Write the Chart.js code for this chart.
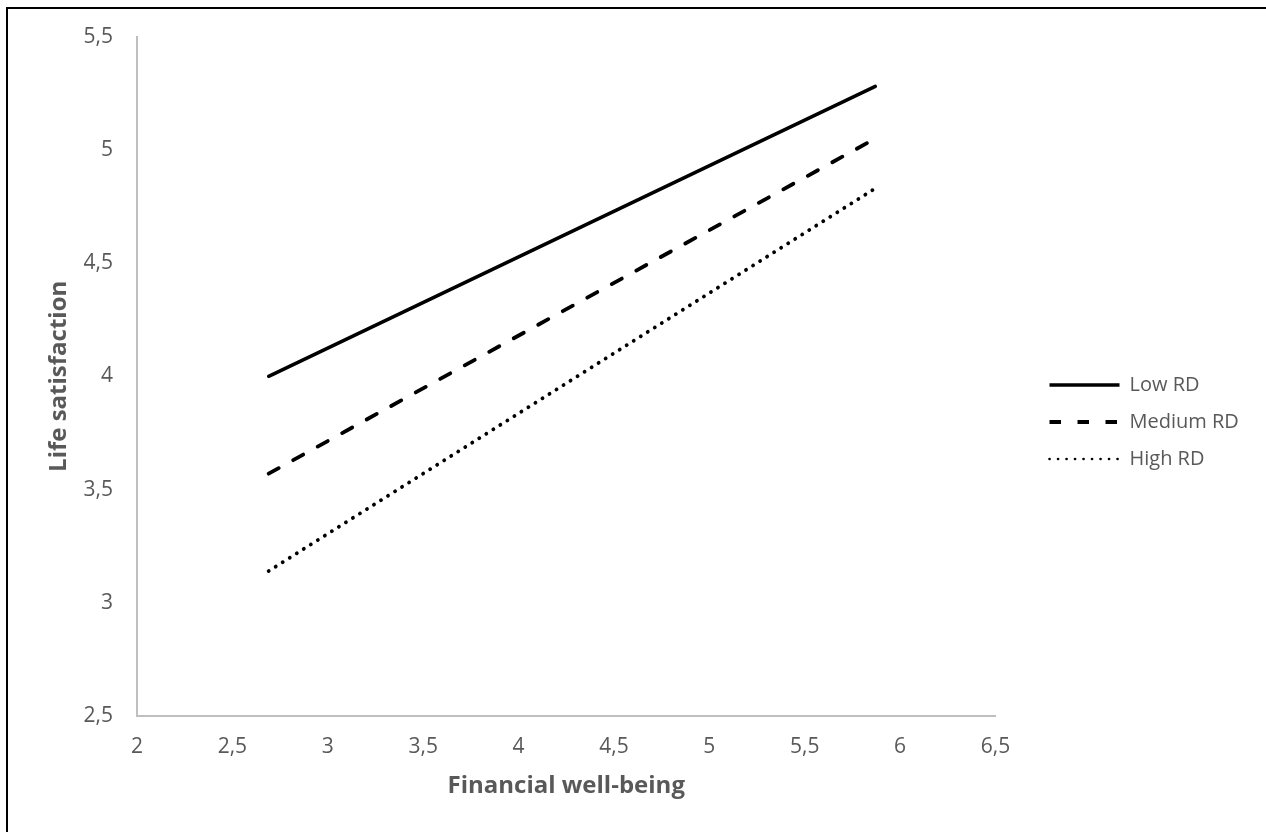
<!DOCTYPE html>
<html lang="en">
<head>
    <meta charset="UTF-8">
    <title>Life satisfaction vs Financial well-being</title>
    <script src="https://cdn.jsdelivr.net/npm/chart.js"></script>
    <style>
        * {
            margin: 0;
            padding: 0;
            box-sizing: border-box;
        }
        body {
            background: #fff;
            width: 1266px;
            height: 832px;
            overflow: hidden;
            position: relative;
        }
        .wrap {
            position: absolute;
            left: 0;
            top: 0;
            width: 1266px;
            height: 832px;
        }
        .frame {
            position: absolute;
            left: 6px;
            top: 7px;
            right: -10px;
            bottom: -10px;
            border-left: 2px solid #000;
            border-top: 2px solid #000;
            pointer-events: none;
        }
    </style>
</head>
<body>
    <div class="wrap"><canvas id="chart"></canvas></div>
    <div class="frame"></div>

    <script>
        // values
        const xValues = [2.69, 5.87];
        const lowRD = [4.00, 5.28];
        const mediumRD = [3.57, 5.05];
        const highRD = [3.14, 4.83];
        const seriesNames = ['Low RD', 'Medium RD', 'High RD'];

        function toPoints(ys) {
            return xValues.map((x, i) => ({ x: x, y: ys[i] }));
        }

        function commaTick(value) {
            return String(value).replace('.', ',');
        }

        Chart.defaults.font.family = "'Open Sans', sans-serif";
        Chart.defaults.color = '#595959';

        const ctx = document.getElementById('chart').getContext('2d');
        new Chart(ctx, {
            type: 'scatter',
            data: {
                datasets: [
                    {
                        label: seriesNames[0],
                        data: toPoints(lowRD),
                        showLine: true,
                        borderColor: '#000',
                        backgroundColor: '#000',
                        borderWidth: 3.5,
                        borderCapStyle: 'round',
                        pointRadius: 0
                    },
                    {
                        label: seriesNames[1],
                        data: toPoints(mediumRD),
                        showLine: true,
                        borderColor: '#000',
                        backgroundColor: '#000',
                        borderWidth: 3.8,
                        borderDash: [11.5, 16.5],
                        borderCapStyle: 'round',
                        pointRadius: 0
                    },
                    {
                        label: seriesNames[2],
                        data: toPoints(highRD),
                        showLine: true,
                        borderColor: '#000',
                        backgroundColor: '#000',
                        borderWidth: 3.8,
                        borderDash: [0.1, 8.2],
                        borderCapStyle: 'round',
                        pointRadius: 0
                    }
                ]
            },
            options: {
                responsive: true,
                maintainAspectRatio: false,
                animation: false,
                events: [],
                layout: {
                    padding: { top: 36, right: 27, bottom: 24, left: 0 }
                },
                scales: {
                    x: {
                        type: 'linear',
                        min: 2,
                        max: 6.5,
                        afterFit: s => { s.height = 92; },
                        grid: { display: false, drawTicks: false },
                        border: { display: true, color: '#bfbfbf', width: 2 },
                        ticks: {
                            stepSize: 0.5,
                            padding: 18,
                            font: { size: 21 },
                            callback: commaTick
                        },
                        title: {
                            display: true,
                            text: 'Financial well-being',
                            font: { size: 24, weight: 'bold' },
                            padding: { top: 0, bottom: 7 }
                        }
                    },
                    y: {
                        type: 'linear',
                        min: 2.5,
                        max: 5.5,
                        afterFit: s => { s.width = 137; },
                        grid: { display: false, drawTicks: false },
                        border: { display: true, color: '#bfbfbf', width: 2 },
                        ticks: {
                            stepSize: 0.5,
                            padding: 24,
                            font: { size: 21 },
                            callback: commaTick
                        },
                        title: {
                            display: true,
                            text: 'Life satisfaction',
                            font: { size: 24, weight: 'bold' },
                            padding: { top: 45, bottom: 0 }
                        }
                    },
                    // empty spacer between plot area and legend
                    gap: {
                        type: 'linear',
                        position: 'right',
                        afterFit: s => { s.width = 37; },
                        grid: { display: false },
                        border: { display: false },
                        ticks: { display: false }
                    }
                },
                plugins: {
                    legend: {
                        position: 'right',
                        labels: {
                            usePointStyle: true,
                            pointStyle: 'line',
                            pointStyleWidth: 70,
                            padding: 17,
                            color: '#595959',
                            font: { size: 20 },
                            // keep each series' dash pattern in the legend sample
                            generateLabels: chart => {
                                const items = Chart.defaults.plugins.legend.labels.generateLabels(chart);
                                return items.map(item => {
                                    const ds = chart.data.datasets[item.datasetIndex];
                                    const dotted = ds.borderDash && ds.borderDash[0] < 1;
                                    item.lineDash = dotted ? [0.1, 8.4] : (ds.borderDash || []);
                                    item.lineWidth = dotted ? 2.6 : ds.borderWidth;
                                    item.lineCap = dotted ? 'round' : 'butt';
                                    return item;
                                });
                            }
                        }
                    },
                    tooltip: { enabled: false }
                }
            }
        });
    </script>
</body>
</html>
